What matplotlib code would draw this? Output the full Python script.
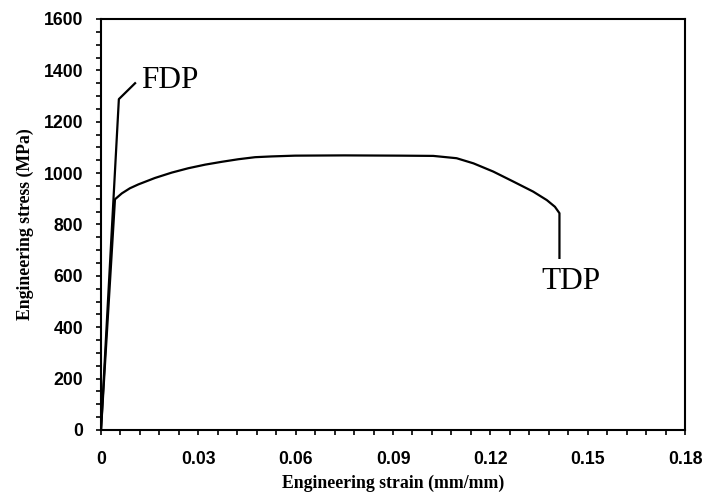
import matplotlib.pyplot as plt
from matplotlib.ticker import MultipleLocator

# FDP curve (strain, stress)
fdp_strain = [0.0, 0.0055, 0.0105]
fdp_stress = [0, 1288, 1350]

# TDP curve (strain, stress)
tdp_strain = [0.0, 0.0043, 0.0064, 0.0089, 0.0115, 0.0166, 0.0218, 0.0269,
              0.0321, 0.0372, 0.0423, 0.0475, 0.0526, 0.0598, 0.0750,
              0.0922, 0.1024, 0.1096, 0.1148, 0.1209, 0.1271, 0.1332,
              0.1374, 0.1399, 0.1413, 0.1413]
tdp_stress = [0, 898, 921, 941, 956, 981, 1002, 1019,
              1033, 1044, 1054, 1062, 1065, 1068, 1069,
              1068, 1067, 1058, 1038, 1006, 967, 928,
              895, 869, 844, 670]

x_ticks = [0, 0.03, 0.06, 0.09, 0.12, 0.15, 0.18]
x_labels = ["0", "0.03", "0.06", "0.09", "0.12", "0.15", "0.18"]
y_ticks = [0, 200, 400, 600, 800, 1000, 1200, 1400, 1600]

fig = plt.figure(figsize=(7.02, 4.96), dpi=100)
ax = fig.add_axes([0.1439, 0.1331, 0.8319, 0.8286])

ax.plot(fdp_strain, fdp_stress, color="black", lw=1.6, solid_joinstyle="round")
ax.plot(tdp_strain, tdp_stress, color="black", lw=1.6, solid_joinstyle="round")

ax.text(0.0125, 1330, "FDP", family="Liberation Serif", fontsize=22.5, va="baseline")
ax.text(0.1356, 549, "TDP", family="Liberation Serif", fontsize=22.5, va="baseline")

ax.set_xlim(0, 0.18)
ax.set_ylim(0, 1600)
ax.set_xticks(x_ticks)
ax.set_xticklabels(x_labels)
ax.set_yticks(y_ticks)
ax.xaxis.set_minor_locator(MultipleLocator(0.006))
ax.yaxis.set_minor_locator(MultipleLocator(50))
ax.tick_params(which="both", direction="out", top=False, right=False,
               width=1.2, length=3.8)
ax.tick_params(axis="x", which="major", pad=11)
ax.tick_params(axis="y", which="major", pad=9)
for lab in ax.get_xticklabels() + ax.get_yticklabels():
    lab.set_family("Liberation Sans")
    lab.set_fontweight("bold")
    lab.set_fontsize(12.7)
for s in ax.spines.values():
    s.set_linewidth(1.5)

ax.set_xlabel("Engineering strain (mm/mm)", family="Liberation Serif",
              fontweight="bold", fontsize=12.8, labelpad=5)
ax.set_ylabel("Engineering stress (MPa)", family="Liberation Serif",
              fontweight="bold", fontsize=12.8, labelpad=7)

fig.savefig("out.png", dpi=100)
